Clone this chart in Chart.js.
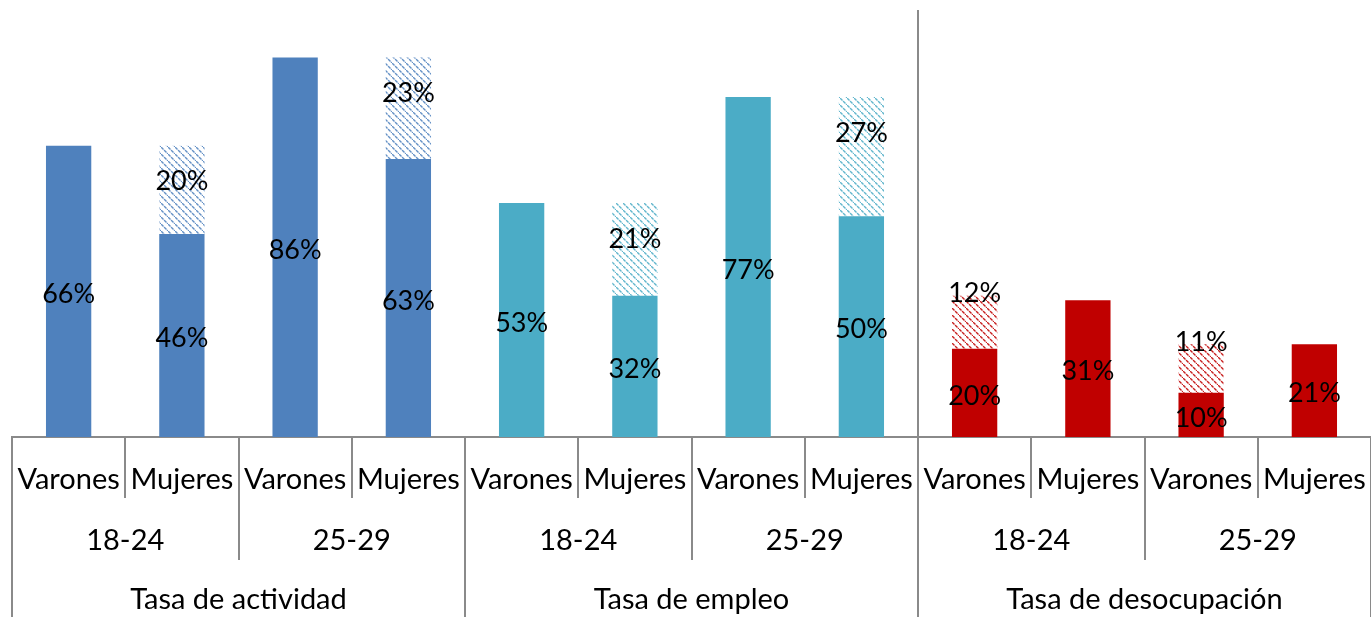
<!DOCTYPE html>
<html>
<head>
<meta charset="utf-8">
<script src="https://cdn.jsdelivr.net/npm/chart.js@4"></script>
<style>
  body { margin: 0; background: #fff; }
  #wrap { width: 1371px; height: 617px; }
</style>
</head>
<body>
<div id="wrap"><canvas id="grafico"></canvas></div>
<script>
const sexos = ['Varones', 'Mujeres', 'Varones', 'Mujeres', 'Varones', 'Mujeres',
               'Varones', 'Mujeres', 'Varones', 'Mujeres', 'Varones', 'Mujeres'];
const edades = ['18-24', '25-29', '18-24', '25-29', '18-24', '25-29'];
const tasas = ['Tasa de actividad', 'Tasa de empleo', 'Tasa de desocupación'];
const base = [66, 46, 86, 63, 53, 32, 77, 50, 20, 31, 10, 21];
const brecha = [null, 20, null, 23, null, 21, null, 27, 12, null, 11, null];
const colores = ['#4F81BD', '#4BACC6', '#C00000'];

const FUENTE = 'Lato, "DejaVu Sans", sans-serif';
const GRIS = '#8a8a8a';

function hatch(color) {
  const c = document.createElement('canvas');
  c.width = c.height = 7;
  const g = c.getContext('2d');
  g.fillStyle = '#fff';
  g.fillRect(0, 0, 7, 7);
  g.fillStyle = color;
  for (let k = 0; k < 7; k++) {
    g.globalAlpha = k % 3 === 2 ? 0.3 : 0.85;
    g.fillRect(k, k, 1.5, 1.5);
  }
  return g.createPattern(c, 'repeat');
}
const tramas = colores.map(hatch);

const grupo = i => Math.floor(i / (sexos.length / tasas.length));

const etiquetas = {
  id: 'etiquetas',
  afterDatasetsDraw(chart) {
    const ctx = chart.ctx;
    ctx.save();
    ctx.font = '27px ' + FUENTE;
    ctx.fillStyle = '#000';
    ctx.textAlign = 'center';
    ctx.textBaseline = 'middle';
    chart.data.datasets.forEach((ds, d) => {
      chart.getDatasetMeta(d).data.forEach((bar, i) => {
        const v = ds.data[i];
        if (v == null) return;
        const p = bar.getProps(['x', 'y', 'base'], true);
        let ty;
        if (d === 0) ty = (p.y + p.base) / 2 + 3;
        else ty = (p.base - p.y) > 70 ? p.y + 36 : p.y - 2;
        ctx.fillText(v + '%', p.x, ty);
      });
    });
    ctx.restore();
  }
};

const ejes = {
  id: 'ejes',
  afterDraw(chart) {
    const x = chart.scales.x, ctx = chart.ctx;
    const y0 = chart.chartArea.bottom, yFin = chart.height;
    const px = i => x.getPixelForValue(i);
    ctx.save();
    ctx.strokeStyle = GRIS;
    ctx.lineWidth = 2;
    for (let b = 0; b <= sexos.length; b++) {
      const xb = Math.round(px(b - 0.5));
      let yTop = y0, yBot;
      if (b % 4 === 0) yBot = yFin;
      else if (b % 2 === 0) yBot = 560;
      else yBot = 498;
      if (b === 8) yTop = 10;
      ctx.beginPath();
      ctx.moveTo(xb, yTop);
      ctx.lineTo(xb, yBot);
      ctx.stroke();
    }
    ctx.font = '29px ' + FUENTE;
    ctx.fillStyle = '#000';
    ctx.textAlign = 'center';
    ctx.textBaseline = 'middle';
    edades.forEach((e, j) => ctx.fillText(e, (px(2 * j) + px(2 * j + 1)) / 2, 541));
    tasas.forEach((t, k) => ctx.fillText(t, (px(4 * k) + px(4 * k + 3)) / 2, 600));
    ctx.restore();
  }
};

new Chart(document.getElementById('grafico'), {
  type: 'bar',
  data: {
    labels: sexos,
    datasets: [
      {
        data: base,
        backgroundColor: c => colores[grupo(c.dataIndex)],
        barPercentage: 0.4,
        categoryPercentage: 1
      },
      {
        data: brecha,
        backgroundColor: c => tramas[grupo(c.dataIndex)],
        barPercentage: 0.4,
        categoryPercentage: 1
      }
    ]
  },
  options: {
    responsive: true,
    maintainAspectRatio: false,
    devicePixelRatio: 1,
    animation: false,
    layout: { padding: { left: 12, right: 0, top: 0, bottom: 0 } },
    plugins: { legend: { display: false }, tooltip: { enabled: false } },
    scales: {
      x: {
        stacked: true,
        grid: { display: false },
        border: { display: true, color: GRIS, width: 2 },
        ticks: {
          color: '#000',
          font: { family: FUENTE, size: 29 },
          padding: 17,
          maxRotation: 0,
          autoSkip: false
        },
        afterFit: s => { s.height = 180; s.paddingLeft = 0; s.paddingRight = 0; }
      },
      y: {
        stacked: true,
        display: false,
        min: 0,
        max: 99
      }
    }
  },
  plugins: [etiquetas, ejes]
});
</script>
</body>
</html>
